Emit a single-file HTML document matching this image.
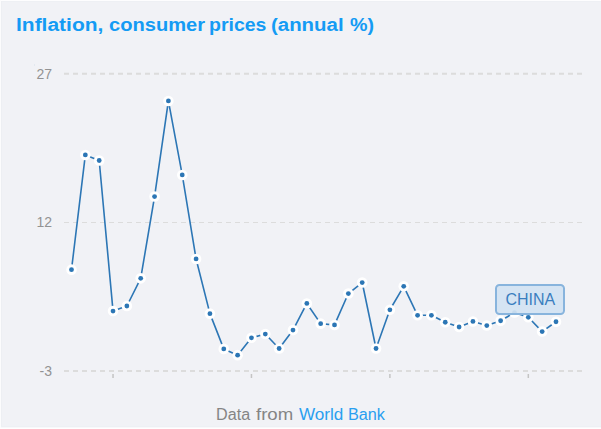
<!DOCTYPE html>
<html><head><meta charset="utf-8">
<style>
html,body{margin:0;padding:0;}
body{width:601px;height:429px;overflow:hidden;background:#f1f2f6;position:relative;font-family:"Liberation Sans",sans-serif;}
.e{position:absolute;}
.title{position:absolute;left:0;top:15.4px;font-size:18px;font-weight:bold;color:#149bf4;white-space:nowrap;}
.title span{position:absolute;top:0;transform-origin:0 0;}
.ylab{position:absolute;right:549px;font-size:14px;color:#939393;text-align:right;white-space:nowrap;}
.foot{position:absolute;left:0;top:406px;font-size:16px;color:#858585;white-space:nowrap;}
.foot span{position:absolute;top:0;transform-origin:0 0;}
.foot .lk{color:#2a9ff0;}
svg{position:absolute;left:0;top:0;}
.label{position:absolute;left:495px;top:284px;width:65.6px;padding-left:0.5px;height:27.3px;border:2px solid #88b4dd;border-radius:4.5px;background:rgba(210,227,242,0.92);color:#3a7ebf;font-size:16px;text-align:center;line-height:27.8px;}
</style></head><body>
<div class="e" style="left:0;top:1px;width:601px;height:1px;background:#eef0f4"></div>
<div class="e" style="left:1px;top:0;width:1px;height:429px;background:#edeff3"></div>
<div class="e" style="left:0;top:426px;width:601px;height:1px;background:#eef0f4"></div>
<div class="e" style="left:0;top:427px;width:601px;height:1px;background:#f8f9fb"></div>
<div class="e" style="left:0;top:0;width:601px;height:1px;background:#fdfdfe"></div>
<div class="e" style="left:0;top:0;width:1px;height:429px;background:#fcfcfd"></div>
<div class="e" style="left:0;top:428px;width:601px;height:1px;background:#ffffff"></div>
<div class="e" style="left:34px;top:64px;width:1px;height:2px;background:#e3e9f0"></div>
<div class="title"><span style="left:16.34px;transform:scaleX(1.1644)">Inflation,</span><span style="left:108.5px;transform:scaleX(1.1174)">consumer</span><span style="left:209.0px;transform:scaleX(1.083)">prices</span><span style="left:271.47px;transform:scaleX(1.1339)">(annual</span><span style="left:349.70px;transform:scaleX(1.0905)">%)</span></div>
<div class="ylab" style="top:66px">27</div>
<div class="ylab" style="top:214px">12</div>
<div class="ylab" style="top:363px">-3</div>
<svg width="601" height="429" viewBox="0 0 601 429">
<g stroke="#dcdcdc" stroke-width="2" stroke-dasharray="5 4">
<line x1="64" y1="73.80" x2="583" y2="73.80"/>
<line x1="64" y1="222.5" x2="583" y2="222.5" stroke-width="1.1"/>
<line x1="64" y1="371.00" x2="583" y2="371.00"/>
</g>
<g stroke="#c4c4c4" stroke-width="1.5">
<line x1="113.03" y1="374" x2="113.03" y2="378"/>
<line x1="251.46" y1="374" x2="251.46" y2="378"/>
<line x1="389.89" y1="374" x2="389.89" y2="378"/>
<line x1="528.31" y1="374" x2="528.31" y2="378"/>
</g>
<path d="M71.50,269.65 L85.34,154.94 L99.19,160.48 L113.03,311.06 L126.87,306.01 L140.71,278.37 L154.56,196.54 L168.40,100.94 L182.24,174.95 L196.09,258.96 L209.93,313.64 L223.77,348.91 L237.61,355.15 L251.46,337.81 L265.30,334.05 L279.14,348.51 L292.99,330.09 L306.83,303.44 L320.67,323.65 L334.51,324.93 L348.36,293.53 L362.20,282.53 L376.04,348.51 L389.89,309.78 L403.73,286.30 L417.57,315.32 L431.41,315.32 L445.26,322.26 L459.10,327.01 L472.94,321.47 L486.79,325.53 L500.63,320.77 L514.47,312.55 L528.31,317.31 L542.16,331.57 L556.00,321.76" fill="none" stroke="#2c76b5" stroke-width="1.6" stroke-linejoin="round"/>
<circle cx="71.50" cy="269.65" r="5.3" fill="#fff"/>
<circle cx="85.34" cy="154.94" r="5.3" fill="#fff"/>
<circle cx="99.19" cy="160.48" r="5.3" fill="#fff"/>
<circle cx="113.03" cy="311.06" r="5.3" fill="#fff"/>
<circle cx="126.87" cy="306.01" r="5.3" fill="#fff"/>
<circle cx="140.71" cy="278.37" r="5.3" fill="#fff"/>
<circle cx="154.56" cy="196.54" r="5.3" fill="#fff"/>
<circle cx="168.40" cy="100.94" r="5.3" fill="#fff"/>
<circle cx="182.24" cy="174.95" r="5.3" fill="#fff"/>
<circle cx="196.09" cy="258.96" r="5.3" fill="#fff"/>
<circle cx="209.93" cy="313.64" r="5.3" fill="#fff"/>
<circle cx="223.77" cy="348.91" r="5.3" fill="#fff"/>
<circle cx="237.61" cy="355.15" r="5.3" fill="#fff"/>
<circle cx="251.46" cy="337.81" r="5.3" fill="#fff"/>
<circle cx="265.30" cy="334.05" r="5.3" fill="#fff"/>
<circle cx="279.14" cy="348.51" r="5.3" fill="#fff"/>
<circle cx="292.99" cy="330.09" r="5.3" fill="#fff"/>
<circle cx="306.83" cy="303.44" r="5.3" fill="#fff"/>
<circle cx="320.67" cy="323.65" r="5.3" fill="#fff"/>
<circle cx="334.51" cy="324.93" r="5.3" fill="#fff"/>
<circle cx="348.36" cy="293.53" r="5.3" fill="#fff"/>
<circle cx="362.20" cy="282.53" r="5.3" fill="#fff"/>
<circle cx="376.04" cy="348.51" r="5.3" fill="#fff"/>
<circle cx="389.89" cy="309.78" r="5.3" fill="#fff"/>
<circle cx="403.73" cy="286.30" r="5.3" fill="#fff"/>
<circle cx="417.57" cy="315.32" r="5.3" fill="#fff"/>
<circle cx="431.41" cy="315.32" r="5.3" fill="#fff"/>
<circle cx="445.26" cy="322.26" r="5.3" fill="#fff"/>
<circle cx="459.10" cy="327.01" r="5.3" fill="#fff"/>
<circle cx="472.94" cy="321.47" r="5.3" fill="#fff"/>
<circle cx="486.79" cy="325.53" r="5.3" fill="#fff"/>
<circle cx="500.63" cy="320.77" r="5.3" fill="#fff"/>
<circle cx="514.47" cy="312.55" r="5.3" fill="#fff"/>
<circle cx="528.31" cy="317.31" r="5.3" fill="#fff"/>
<circle cx="542.16" cy="331.57" r="5.3" fill="#fff"/>
<circle cx="556.00" cy="321.76" r="5.3" fill="#fff"/>
<circle cx="71.50" cy="269.65" r="2.4" fill="#2c76b5"/>
<circle cx="85.34" cy="154.94" r="2.4" fill="#2c76b5"/>
<circle cx="99.19" cy="160.48" r="2.4" fill="#2c76b5"/>
<circle cx="113.03" cy="311.06" r="2.4" fill="#2c76b5"/>
<circle cx="126.87" cy="306.01" r="2.4" fill="#2c76b5"/>
<circle cx="140.71" cy="278.37" r="2.4" fill="#2c76b5"/>
<circle cx="154.56" cy="196.54" r="2.4" fill="#2c76b5"/>
<circle cx="168.40" cy="100.94" r="2.4" fill="#2c76b5"/>
<circle cx="182.24" cy="174.95" r="2.4" fill="#2c76b5"/>
<circle cx="196.09" cy="258.96" r="2.4" fill="#2c76b5"/>
<circle cx="209.93" cy="313.64" r="2.4" fill="#2c76b5"/>
<circle cx="223.77" cy="348.91" r="2.4" fill="#2c76b5"/>
<circle cx="237.61" cy="355.15" r="2.4" fill="#2c76b5"/>
<circle cx="251.46" cy="337.81" r="2.4" fill="#2c76b5"/>
<circle cx="265.30" cy="334.05" r="2.4" fill="#2c76b5"/>
<circle cx="279.14" cy="348.51" r="2.4" fill="#2c76b5"/>
<circle cx="292.99" cy="330.09" r="2.4" fill="#2c76b5"/>
<circle cx="306.83" cy="303.44" r="2.4" fill="#2c76b5"/>
<circle cx="320.67" cy="323.65" r="2.4" fill="#2c76b5"/>
<circle cx="334.51" cy="324.93" r="2.4" fill="#2c76b5"/>
<circle cx="348.36" cy="293.53" r="2.4" fill="#2c76b5"/>
<circle cx="362.20" cy="282.53" r="2.4" fill="#2c76b5"/>
<circle cx="376.04" cy="348.51" r="2.4" fill="#2c76b5"/>
<circle cx="389.89" cy="309.78" r="2.4" fill="#2c76b5"/>
<circle cx="403.73" cy="286.30" r="2.4" fill="#2c76b5"/>
<circle cx="417.57" cy="315.32" r="2.4" fill="#2c76b5"/>
<circle cx="431.41" cy="315.32" r="2.4" fill="#2c76b5"/>
<circle cx="445.26" cy="322.26" r="2.4" fill="#2c76b5"/>
<circle cx="459.10" cy="327.01" r="2.4" fill="#2c76b5"/>
<circle cx="472.94" cy="321.47" r="2.4" fill="#2c76b5"/>
<circle cx="486.79" cy="325.53" r="2.4" fill="#2c76b5"/>
<circle cx="500.63" cy="320.77" r="2.4" fill="#2c76b5"/>
<circle cx="514.47" cy="312.55" r="2.4" fill="#2c76b5"/>
<circle cx="528.31" cy="317.31" r="2.4" fill="#2c76b5"/>
<circle cx="542.16" cy="331.57" r="2.4" fill="#2c76b5"/>
<circle cx="556.00" cy="321.76" r="2.4" fill="#2c76b5"/>
</svg>
<div class="label">CHINA</div>
<div class="foot"><span class="w" style="left:216.19px;transform:scaleX(1.0091)">Data</span><span class="w" style="left:256.00px;transform:scaleX(1.1613)">from</span><span class="w lk" style="left:298.50px;transform:scaleX(1.0683)">World</span><span class="w lk" style="left:347.99px;transform:scaleX(1.0139)">Bank</span></div>
</body></html>
